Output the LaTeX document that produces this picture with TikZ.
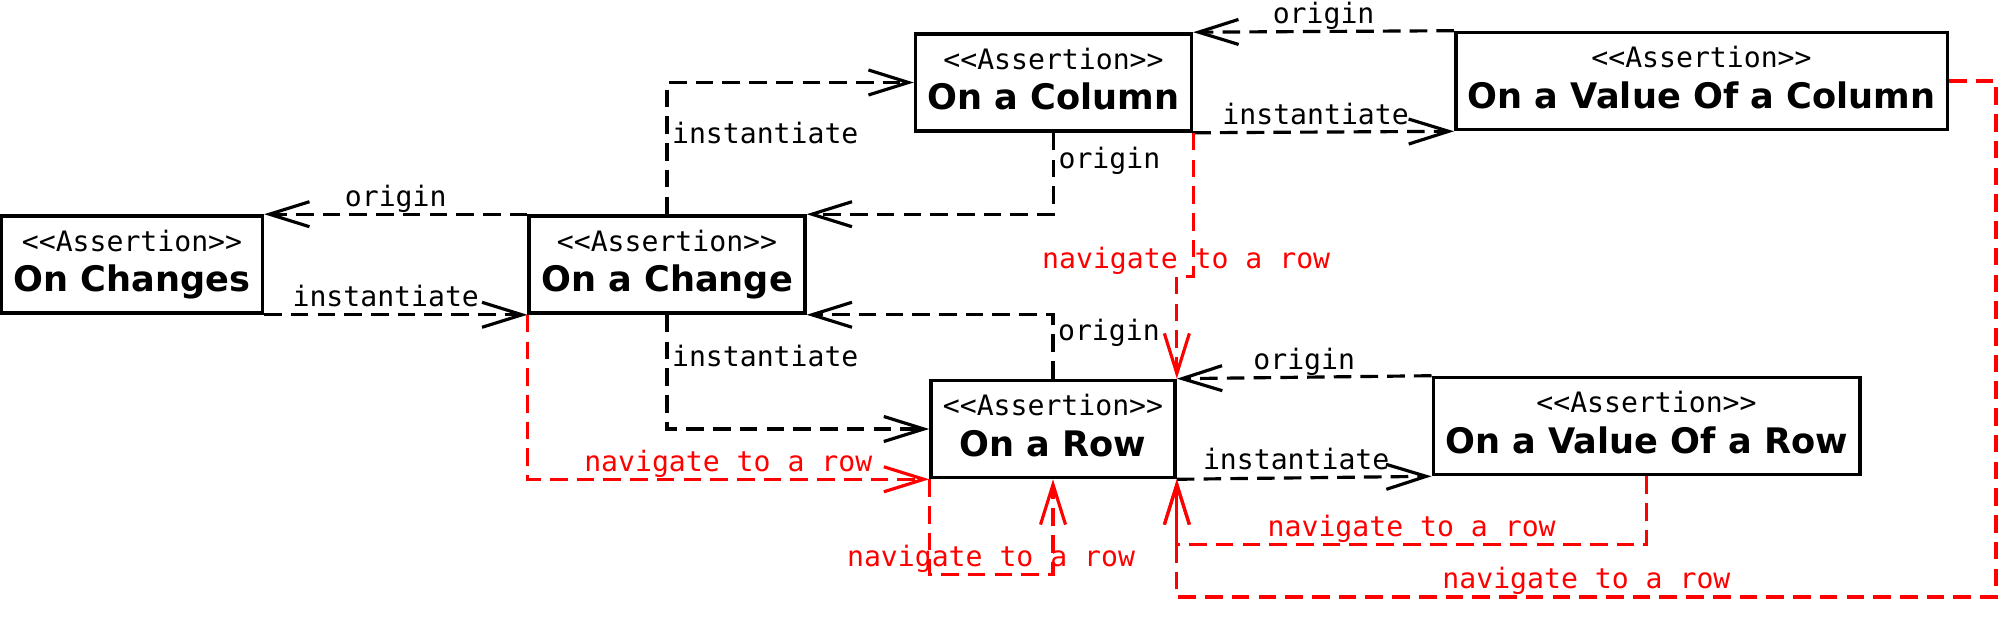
\documentclass[tikz,border=0pt]{standalone}
\usepackage{fontspec}
\setmainfont{DejaVu Sans}
\setmonofont{DejaVu Sans Mono}
\usepackage{tikz}
\usetikzlibrary{arrows.meta, positioning}
\definecolor{navred}{HTML}{FF0000}
\definecolor{linkblack}{HTML}{000000}
\newcommand{\stereo}{{\ttfamily\fontsize{8}{9}\selectfont <{}<Assertion>{}>}}
\tikzstyle{assertion} = [rectangle, draw=linkblack, line width=1pt, fill=white, align=center, inner xsep=0.12cm, minimum height=0.97cm, font=\fontsize{10}{11.5}\selectfont]
\tikzstyle{link} = [line width=0.9pt, ->, >={Straight Barb[length=0.4cm, width=0.25cm]}, dash pattern=on 5pt off 2.6pt, color=linkblack]
\tikzstyle{nav} = [link, color=navred]
\tikzstyle{lbl} = [font=\ttfamily\fontsize{8}{9}\selectfont, inner sep=1pt]
\tikzstyle{navlbl} = [lbl, text=navred]
\tikzstyle{lblabove} = [anchor=base, inner sep=0pt, yshift=0.08cm]

\begin{document}
\begin{tikzpicture}[x=0.01cm, y=-0.01cm]
    \useasboundingbox (0,0) rectangle (2000,634);
    % assertion boxes
    \node[assertion] (OC) at (132,264.5) {\stereo\\\textbf{On Changes}\vphantom{g}};
    \node[assertion] (OCh) at (667,264.5) {\stereo\\\textbf{On a Change}\vphantom{g}};
    \node[assertion] (OCol) at (1053.5,82.5) {\stereo\\\textbf{On a Column}\vphantom{g}};
    \node[assertion] (OVC) at (1701.5,81) {\stereo\\\textbf{On a Value Of a Column}\vphantom{g}};
    \node[assertion] (OR) at (1053,429) {\stereo\\\textbf{On a Row}\vphantom{g}};
    \node[assertion] (OVR) at (1646.5,426) {\stereo\\\textbf{On a Value Of a Row}\vphantom{g}};

    % origin / instantiate
    \draw[link] (OCh.north west) -- node[lbl, lblabove] {origin} (OC.north east);
    \draw[link] (OC.south east) -- node[lbl, lblabove, xshift=-0.1cm] {instantiate} (OCh.south west);
    \draw[link] (OCh.north) |- node[lbl, anchor=west, pos=0.31] {instantiate} (OCol.west);
    \draw[link] (OCol.south) |- node[lbl, anchor=west, pos=0.17] {origin} (OCh.north east);
    \draw[link] (OVC.north west) -- node[lbl, lblabove] {origin} (OCol.north east);
    \draw[link] (OCol.south east) -- node[lbl, lblabove, xshift=-0.08cm] {instantiate} (OVC.south west);
    \draw[link] (OCh.south) |- node[lbl, anchor=west, pos=0.18] {instantiate} (OR.west);
    \draw[link] (OR.north) |- node[lbl, anchor=west, pos=0.36] {origin} (OCh.south east);
    \draw[link] (OVR.north west) -- node[lbl, lblabove] {origin} (OR.north east);
    \draw[link] (OR.south east) -- node[lbl, lblabove, xshift=-0.08cm] {instantiate} (OVR.south west);

    % navigate to a row
    \draw[nav] (OCol.south east) -- ++(0,144) node[navlbl, lblabove, xshift=-0.07cm] {navigate to a row} -| (OR.north east);
    \draw[nav] (OCh.south west) |- node[navlbl, lblabove, pos=0.75] {navigate to a row} (OR.south west);
    \draw[nav] (OR.south west) -- ++(0,95) -| node[navlbl, lblabove, pos=0.25] {navigate to a row} (OR.south);
    \draw[nav] (OVR.south) -- ++(0,68) -| node[navlbl, lblabove, pos=0.25] {navigate to a row} (OR.south east);
    \draw[nav] (OVC.east) -- ++(47,0) -- ++(0,516) -| node[navlbl, lblabove, pos=0.25] {navigate to a row} (OR.south east);
\end{tikzpicture}
\end{document}
